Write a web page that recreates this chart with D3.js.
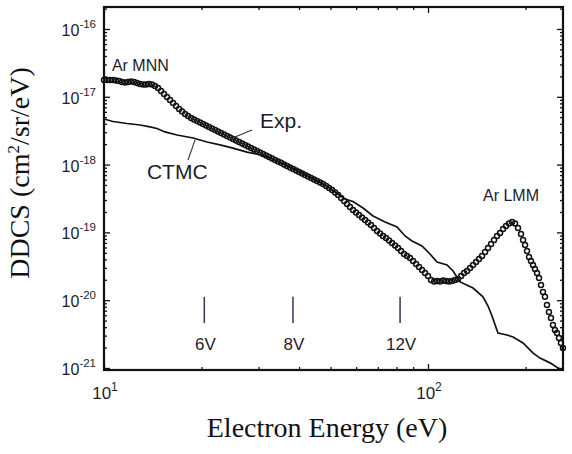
<!DOCTYPE html>
<html>
<head>
<meta charset="utf-8">
<script src="https://cdnjs.cloudflare.com/ajax/libs/d3/7.8.5/d3.min.js"></script>
<style>
body{margin:0;background:#fff}
svg{display:block}
.axis .tick text{display:none}
.axis path{display:none}
</style>
</head>
<body>
<svg id="chart" width="572" height="454"></svg>
<script>
// Exp. (open circles)
var expE = [10.00,10.22,10.44,10.66,10.89,11.13,11.37,11.61,11.86,12.12,12.38,12.65,12.92,13.20,13.48,13.77,14.07,14.37,14.68,15.00,
	15.32,15.65,15.99,16.34,16.69,17.05,17.42,17.79,18.17,18.56,18.96,19.37,19.79,20.22,20.65,21.10,21.55,22.02,22.49,22.98,
	23.47,23.98,24.50,25.02,25.56,26.11,26.68,27.25,27.84,28.44,29.05,29.68,30.32,30.97,31.64,32.32,33.02,33.73,34.46,35.20,
	35.96,36.73,37.53,38.34,39.16,40.01,40.87,41.75,42.65,43.57,44.51,45.47,46.45,47.45,48.48,49.52,50.59,51.68,52.80,53.93,
	55.10,56.24,57.45,58.69,59.96,61.25,62.57,63.92,65.30,66.70,68.14,69.61,71.11,72.65,74.21,75.81,77.45,79.12,80.82,82.57,
	84.35,86.16,88.02,89.92,91.86,93.84,95.87,97.93,100.0,102.2,104.4,106.6,108.9,111.3,113.7,116.1,118.6,121.2,123.8,126.5,
	129.2,132.0,134.8,137.7,140.7,143.7,146.8,150.0,153.2,156.5,159.9,163.3,166.9,170.5,174.1,177.9,181.7,185.6,189.6,193.7,
	196.5,199.3,202.1,205.0,207.9,210.9,213.9,217.0,220.1,223.2,226.4,229.6,232.9,236.2,239.6,243.0,246.5,250.0,253.6,257.2,260.9]
var expV = [1.77e-17,1.77e-17,1.77e-17,1.77e-17,1.74e-17,1.71e-17,1.65e-17,1.63e-17,1.65e-17,1.68e-17,1.65e-17,1.60e-17,1.54e-17,1.52e-17,1.52e-17,1.54e-17,1.52e-17,1.44e-17,1.35e-17,1.22e-17,
	1.10e-17,9.93e-18,8.97e-18,8.10e-18,7.32e-18,6.61e-18,6.07e-18,5.58e-18,5.21e-18,4.87e-18,4.63e-18,4.40e-18,4.18e-18,3.97e-18,3.77e-18,3.59e-18,3.41e-18,3.24e-18,3.08e-18,2.92e-18,
	2.78e-18,2.64e-18,2.51e-18,2.39e-18,2.27e-18,2.15e-18,2.05e-18,1.95e-18,1.85e-18,1.76e-18,1.67e-18,1.59e-18,1.51e-18,1.43e-18,1.36e-18,1.29e-18,1.23e-18,1.17e-18,1.11e-18,1.06e-18,
	1.00e-18,9.54e-19,9.06e-19,8.61e-19,8.18e-19,7.78e-19,7.39e-19,7.02e-19,6.67e-19,6.34e-19,6.03e-19,5.73e-19,5.45e-19,5.18e-19,4.84e-19,4.52e-19,4.22e-19,3.88e-19,3.56e-19,3.22e-19,
	2.90e-19,2.62e-19,2.37e-19,2.14e-19,1.97e-19,1.81e-19,1.66e-19,1.52e-19,1.40e-19,1.29e-19,1.16e-19,1.05e-19,9.63e-20,8.85e-20,8.27e-20,7.59e-20,6.98e-20,6.41e-20,5.89e-20,5.32e-20,
	4.80e-20,4.49e-20,4.19e-20,3.79e-20,3.42e-20,3.09e-20,2.79e-20,2.52e-20,2.28e-20,1.99e-20,1.89e-20,1.92e-20,1.89e-20,1.95e-20,1.92e-20,1.89e-20,1.92e-20,1.99e-20,2.06e-20,2.28e-20,
	2.52e-20,2.70e-20,2.99e-20,3.31e-20,3.66e-20,4.05e-20,4.49e-20,5.14e-20,5.89e-20,6.75e-20,7.73e-20,8.85e-20,9.80e-20,1.12e-19,1.24e-19,1.35e-19,1.42e-19,1.35e-19,1.16e-19,9.47e-20,
	7.73e-20,6.52e-20,5.32e-20,4.34e-20,3.79e-20,3.31e-20,2.89e-20,2.52e-20,2.13e-20,1.68e-20,1.32e-20,1.12e-20,8.50e-21,6.70e-21,5.46e-21,4.31e-21,3.63e-21,3.28e-21,2.77e-21,2.34e-21,1.97e-21]

// CTMC (solid line)
var ctmcE = [10.0,10.66,11.77,12.92,13.87,14.57,15.43,16.80,18.83,20.79,22.80,24.84,27.63,29.67,32.54,36.20,40.27,44.80,49.13,52.77,
	55.44,58.68,63.01,67.66,73.68,80.25,84.94,89.25,95.83,101.4,106.6,114.5,119.5,125.6,137.7,147.8,153.2,157.6,164.4,175.3,
	183.0,196.5,211.0,221.7,237.9,251.9,261.0]
var ctmcV = [4.71e-18,4.32e-18,4.04e-18,3.84e-18,3.59e-18,3.41e-18,3.03e-18,2.73e-18,2.47e-18,2.15e-18,1.95e-18,1.76e-18,1.53e-18,1.43e-18,1.25e-18,1.00e-18,7.78e-19,6.03e-19,4.67e-19,3.69e-19,
	3.11e-19,2.86e-19,2.29e-19,1.75e-19,1.42e-19,1.20e-19,8.85e-20,7.47e-20,6.30e-20,4.80e-20,3.66e-20,3.31e-20,2.70e-20,1.86e-20,1.51e-20,1.12e-20,8.21e-21,5.85e-21,3.28e-21,3.07e-21,
	2.87e-21,2.34e-21,1.66e-21,1.40e-21,1.19e-21,1.00e-21,9.3e-22]

var yMajor = [1e-21,1e-20,1e-19,1e-18,1e-17,1e-16]
var yExp = ["-21","-20","-19","-18","-17","-16"]
var xMajor = [10,100]
var xExp = ["1","2"]
var biasE = [20.4,38.3,82.0]
var biasNames = ["6V","8V","12V"]

var margin = {top:7, right:9, bottom:84, left:104}
var W = 572 - margin.left - margin.right
var H = 454 - margin.top - margin.bottom
var SANS = "'Liberation Sans', Arial, sans-serif"
var SERIF = "'Liberation Serif', 'Times New Roman', serif"
var INK = "#1d1d2b"

var x = d3.scaleLog().domain([10,261]).range([0,W])
var y = d3.scaleLog().domain([9.34e-22,2.11e-16]).range([H,0])

var svg = d3.select("#chart")
var g = svg.append("g").attr("transform","translate("+margin.left+","+margin.top+")")

// ticks, all pointing inward
function isMajor(v){ return Math.abs(Math.log10(v) - Math.round(Math.log10(v))) < 1e-6 }
var yMinor = y.ticks().filter(function(v){ return !isMajor(v) })
var xMinor = x.ticks().filter(function(v){ return !isMajor(v) })

function drawAxis(gen, vals, size, tr){
	g.append("g").attr("class","axis").attr("transform",tr || null)
		.call(gen.tickValues(vals).tickSize(size).tickFormat(""))
		.selectAll("line").attr("stroke","#111").attr("stroke-width",1.3)
}
drawAxis(d3.axisLeft(y), yMajor, -6)
drawAxis(d3.axisLeft(y), yMinor, -3)
drawAxis(d3.axisRight(y), yMajor, -6, "translate("+W+",0)")
drawAxis(d3.axisRight(y), yMinor, -3, "translate("+W+",0)")
drawAxis(d3.axisBottom(x), xMajor, -6, "translate(0,"+H+")")
drawAxis(d3.axisBottom(x), xMinor, -3, "translate(0,"+H+")")
drawAxis(d3.axisTop(x), xMajor, -6)
drawAxis(d3.axisTop(x), xMinor, -3)

// frame
g.append("rect").attr("width",W).attr("height",H)
	.attr("fill","none").attr("stroke","#111").attr("stroke-width",2.2)

// tick labels 10^n
yMajor.forEach(function(v,i){
	var t = g.append("text").attr("x",-8).attr("y",y(v)+7)
		.attr("text-anchor","end").attr("font-family",SANS).attr("font-size",16).attr("fill",INK)
	t.append("tspan").text("10")
	t.append("tspan").attr("dy",-8).attr("font-size",11.5).text(yExp[i])
})
xMajor.forEach(function(v,i){
	var t = g.append("text").attr("x",x(v)+1).attr("y",H+29)
		.attr("text-anchor","middle").attr("font-family",SANS).attr("font-size",17).attr("fill",INK)
	t.append("tspan").text("10")
	t.append("tspan").attr("dy",-8).attr("font-size",12).text(xExp[i])
})

// axis titles
var yt = svg.append("text").attr("transform","translate(29,173) rotate(-90)")
	.attr("text-anchor","middle").attr("font-family",SERIF).attr("font-size",28).attr("fill","#111")
yt.append("tspan").text("DDCS (cm")
yt.append("tspan").attr("dy",-10).attr("font-size",17).text("2")
yt.append("tspan").attr("dy",10).text("/sr/eV)")

svg.append("text").attr("x",327).attr("y",437)
	.attr("text-anchor","middle").attr("font-family",SERIF).attr("font-size",28).attr("fill","#111")
	.text("Electron Energy (eV)")

// CTMC line
var line = d3.line().x(function(d){ return x(d[0]) }).y(function(d){ return y(d[1]) })
g.append("path").datum(d3.zip(ctmcE,ctmcV))
	.attr("d",line).attr("fill","none").attr("stroke","#111").attr("stroke-width",1.7)

// Exp circles
g.selectAll(".pt").data(d3.zip(expE,expV)).enter().append("circle")
	.attr("class","pt")
	.attr("cx",function(d){ return x(d[0]) })
	.attr("cy",function(d){ return y(d[1]) })
	.attr("r",2.5)
	.attr("fill","none").attr("stroke","#111").attr("stroke-width",1.5)

// bias markers
biasE.forEach(function(e,i){
	g.append("line").attr("x1",x(e)).attr("x2",x(e)).attr("y1",y(1.12e-20)).attr("y2",y(4.6e-21))
		.attr("stroke","#3d3158").attr("stroke-width",1.5)
	g.append("text").attr("x",x(e)+1).attr("y",y(1.84e-21))
		.attr("text-anchor","middle").attr("font-family",SANS).attr("font-size",17).attr("fill",INK)
		.text(biasNames[i])
})

// labels and leaders
function label(txt,e,v,size){
	g.append("text").attr("x",x(e)).attr("y",y(v))
		.attr("font-family",SANS).attr("font-size",size).attr("fill",INK).text(txt)
}
function leader(e1,v1,e2,v2){
	g.append("line").attr("x1",x(e1)).attr("y1",y(v1)).attr("x2",x(e2)).attr("y2",y(v2))
		.attr("stroke","#333").attr("stroke-width",1.1)
}
label("Ar MNN",10.58,2.40e-17,16)
label("Exp.",30.3,3.47e-18,21)
label("CTMC",13.57,6.13e-19,21)
label("Ar LMM",147.8,2.90e-19,16)
leader(28.63,3.24e-18,25.37,2.55e-18)
leader(19.10,2.31e-18,18.17,1.17e-18)
</script>
</body>
</html>
